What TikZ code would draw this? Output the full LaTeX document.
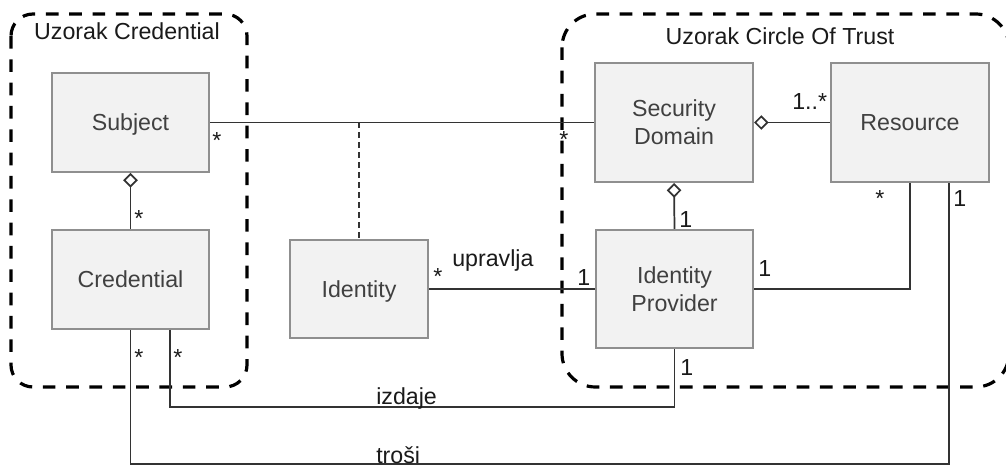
\documentclass[tikz,border=0pt]{standalone}
\usepackage{fontspec}
\setmainfont{Liberation Sans}
\usetikzlibrary{arrows.meta,calc}
\definecolor{boxfill}{HTML}{F2F2F2}
\definecolor{boxline}{HTML}{8F8F8F}
\definecolor{conn}{HTML}{333333}
\definecolor{txt}{HTML}{1A1A1A}
\definecolor{boxtxt}{HTML}{404040}
\begin{document}
\begin{tikzpicture}[x=0.75pt,y=-0.75pt,
  every node/.style={font=\fontsize{17.4pt}{21pt}\selectfont, text=txt},
  umlbox/.style={draw=boxline, fill=boxfill, line width=1.5pt, inner sep=0pt,
    align=center, text=boxtxt, text depth=0pt},
  container/.style={draw=black, line width=2.4pt, dash pattern=on 9.5pt off 8pt},
  conline/.style={draw=conn, line width=1.3pt},
  agg/.style={conline, {Diamond[open, length=11pt, width=11pt, fill=white]}-},
  mult/.style={anchor=base west, inner sep=0pt},
  title/.style={anchor=base, inner sep=0pt}
]
\useasboundingbox (0,0) rectangle (1006,466);

% containers
\draw[container, rounded corners=16.5pt] (11,14) rectangle (247,387);
\draw[container, rounded corners=25pt] (562,14) rectangle (1009,387);
\node[title] (t1) at (127,40) {Uzorak Credential};
\node[title] (t2) at (780,45) {Uzorak Circle Of Trust};

% classes
\node[umlbox, minimum width=117.75pt, minimum height=74.25pt] (subj) at (130.5,122.5) {Subject};
\node[umlbox, minimum width=117.75pt, minimum height=74.25pt] (cred) at (130.5,279.5) {Credential};
\node[umlbox, minimum width=103.5pt, minimum height=73.5pt] (ident) at (359,289) {Identity};
\node[umlbox, minimum width=118.5pt, minimum height=89.25pt] (sd) at (674,122.5) {Security\\Domain};
\node[umlbox, minimum width=118.5pt, minimum height=89.25pt] (res) at (910,122.5) {Resource};
\node[umlbox, minimum width=117.75pt, minimum height=88.5pt] (idp) at (674.5,289) {Identity\\Provider};

% associations
\draw[conline] (subj.east) -- (sd.west);
\coordinate (assoc) at (ident.north |- subj.east);
\draw[conline, dash pattern=on 4.5pt off 3pt] (assoc) -- (ident.north);
\draw[agg] (subj.south) -- (cred.north);
\draw[agg] (sd.east) -- (res.west);
\draw[agg] (sd.south) -- (idp.north);
\draw[conline] (ident.east) -- (idp.west);
\draw[conline] (idp.east) -| (res.south);
\coordinate (izd) at ($(cred.south)+(39.5,0)$);
\coordinate (izdc) at (400,407);
\draw[conline] (izd) -- (izd |- izdc) -| (idp.south);
\coordinate (tro) at ($(res.south)+(39,0)$);
\coordinate (troc) at (400,464);
\draw[conline] (cred.south) -- (cred.south |- troc) -| (tro);

% multiplicities and labels
\node[mult] (m1) at (212,149) {*};
\node[mult] (m2) at (559,148) {*};
\node[mult] (m3) at (134,227) {*};
\node[mult] (m4) at (792,110) {1..*};
\node[mult] (m5) at (679,228) {1};
\node[mult] (m6) at (875,207) {*};
\node[mult] (m7) at (953,207) {1};
\node[mult] (m8) at (433,285) {*};
\node[mult] (m9) at (452,267) {upravlja};
\node[mult] (m10) at (577,286) {1};
\node[mult] (m11) at (758,277) {1};
\node[mult] (m12) at (134,365) {*};
\node[mult] (m13) at (173,365) {*};
\node[mult] (m14) at (680,375) {1};
\node[mult] (m15) at (376,404) {izdaje};
\node[mult] (m16) at (376,463) {troši};
\end{tikzpicture}
\end{document}
